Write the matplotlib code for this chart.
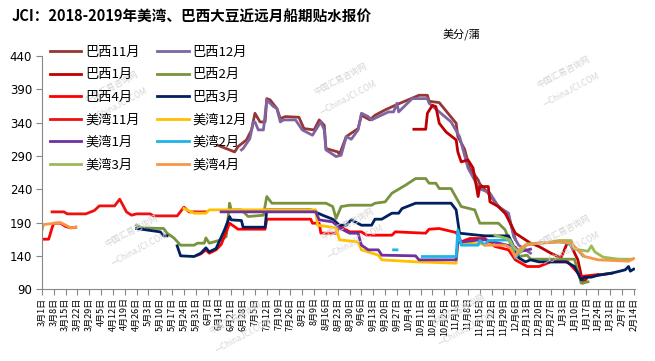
import numpy as np
import pandas as pd
import matplotlib
matplotlib.use("Agg")
import matplotlib.pyplot as plt

plt.rcParams['font.family'] = ['Noto Sans CJK SC', 'DejaVu Sans']

# ---- data (美分/蒲) ----
br11_d = ["2018-06-13", "2018-06-23", "2018-06-25", "2018-06-30", "2018-07-03", "2018-07-05", "2018-07-08",
          "2018-07-11", "2018-07-12", "2018-07-14", "2018-07-18", "2018-07-20", "2018-07-23", "2018-07-31",
          "2018-08-03", "2018-08-09", "2018-08-12", "2018-08-15", "2018-08-16", "2018-08-23", "2018-08-24",
          "2018-08-28", "2018-09-04", "2018-09-06", "2018-09-11", "2018-09-14", "2018-09-20", "2018-09-26",
          "2018-10-10", "2018-10-15", "2018-10-16", "2018-10-22", "2018-11-01", "2018-11-02", "2018-11-06",
          "2018-11-09", "2018-11-14", "2018-11-15", "2018-11-20", "2018-11-26", "2018-12-02", "2018-12-05",
          "2018-12-06"]
br11_v = [306, 296, 304, 314, 329, 354, 341, 341, 376, 374, 361, 346, 349, 348, 331, 329, 344, 336, 301, 296,
          292, 319, 331, 351, 344, 351, 359, 366, 381, 381, 372, 370, 339, 319, 300, 272, 254, 248, 234, 214,
          199, 174, 165]

br12_d = ["2018-06-27", "2018-06-28", "2018-07-02", "2018-07-04", "2018-07-05", "2018-07-07", "2018-07-10",
          "2018-07-12", "2018-07-16", "2018-07-18", "2018-07-20", "2018-07-22", "2018-07-29", "2018-08-02",
          "2018-08-08", "2018-08-13", "2018-08-15", "2018-08-16", "2018-08-22", "2018-08-25", "2018-08-28",
          "2018-08-31", "2018-09-04", "2018-09-06", "2018-09-10", "2018-09-12", "2018-09-16", "2018-09-22",
          "2018-09-25", "2018-09-27", "2018-09-28", "2018-10-06", "2018-10-15", "2018-10-16", "2018-10-29",
          "2018-11-03", "2018-11-08", "2018-11-14", "2018-11-15", "2018-11-21", "2018-11-26", "2018-12-02",
          "2018-12-05", "2018-12-08", "2018-12-15"]
br12_v = [299, 301, 316, 341, 341, 329, 329, 374, 364, 361, 341, 344, 344, 329, 321, 341, 329, 299, 289, 291,
          319, 315, 329, 354, 349, 344, 349, 356, 356, 369, 356, 376, 376, 369, 341, 319, 272, 244, 241, 234,
          214, 204, 169, 156, 144]

br1_d = ["2018-10-07", "2018-10-14", "2018-10-15", "2018-10-18", "2018-10-20", "2018-10-22", "2018-10-26",
         "2018-11-01", "2018-11-02", "2018-11-04", "2018-11-08", "2018-11-11", "2018-11-14", "2018-11-15",
         "2018-11-20", "2018-11-21", "2018-11-26", "2018-11-30", "2018-12-03", "2018-12-06", "2018-12-09",
         "2018-12-15", "2018-12-20", "2018-12-27", "2019-01-02", "2019-01-06", "2019-01-08", "2019-01-12",
         "2019-01-15", "2019-01-18", "2019-01-24", "2019-02-01"]
br1_v = [330, 330, 354, 366, 364, 339, 326, 314, 296, 281, 284, 272, 229, 244, 244, 221, 214, 204, 189, 174,
         169, 159, 154, 144, 137, 161, 155, 134, 99, 109, 111, 114]

br2_d = ["2018-04-26", "2018-04-29", "2018-05-12", "2018-05-14", "2018-05-18", "2018-05-22", "2018-05-30",
         "2018-06-01", "2018-06-05", "2018-06-06", "2018-06-08", "2018-06-15", "2018-06-18", "2018-06-20",
         "2018-06-21", "2018-06-27", "2018-07-01", "2018-07-10", "2018-07-12", "2018-07-15", "2018-08-16",
         "2018-08-20", "2018-08-22", "2018-08-25", "2018-08-30", "2018-09-12", "2018-09-14", "2018-09-20",
         "2018-09-24", "2018-10-02", "2018-10-08", "2018-10-14", "2018-10-16", "2018-10-20", "2018-10-22",
         "2018-10-29", "2018-11-04", "2018-11-12", "2018-11-15", "2018-11-26", "2018-11-30", "2018-12-03",
         "2018-12-06", "2018-12-08", "2018-12-13", "2018-12-15", "2019-01-10", "2019-01-14", "2019-01-18"]
br2_v = [186, 182, 181, 174, 167, 156, 156, 159, 159, 167, 159, 164, 169, 219, 209, 209, 199, 201, 229, 219,
         219, 214, 196, 214, 216, 216, 219, 221, 234, 246, 256, 256, 249, 249, 241, 241, 214, 209, 189, 189,
         179, 159, 149, 139, 141, 135, 135, 99, 101]

br4_d = ["2018-03-01", "2018-03-05", "2018-03-07", "2018-03-08", "2018-03-12", "2018-03-15", "2018-03-18",
         "2018-03-21", "2018-03-22",
         "2018-06-01", "2018-06-03", "2018-06-06", "2018-06-08", "2018-06-12", "2018-06-15", "2018-06-18",
         "2018-06-20", "2018-06-25", "2018-07-11", "2018-07-12", "2018-08-07", "2018-08-08", "2018-08-12",
         "2018-08-13", "2018-08-22", "2018-08-24", "2018-08-28", "2018-08-30", "2018-09-06", "2018-09-09",
         "2018-09-24", "2018-09-26", "2018-10-14", "2018-10-16", "2018-10-22", "2018-11-01", "2018-11-04",
         "2018-11-09", "2018-11-18", "2018-11-24", "2018-12-02", "2018-12-06", "2018-12-13", "2018-12-20",
         "2018-12-27", "2019-01-06", "2019-01-14", "2019-01-24"]
br4_v = [165, 165, 182, 189, 189, 184, 182, 183, np.nan,
         141, 143, 149, 144, 149, 157, 176, 189, 180, 180, 195, 195, 189, 189, 174, 174, 184, 179, 176, 176,
         171, 171, 176, 174, 180, 181, 175, 161, 166, 166, 154, 149, 134, 124, 124, 131, 131, 109, 112]

br3_d = ["2018-04-26", "2018-05-10", "2018-05-12", "2018-05-14", "2018-05-17",
         "2018-05-20", "2018-05-22", "2018-05-30", "2018-06-03", "2018-06-06", "2018-06-08", "2018-06-12",
         "2018-06-17", "2018-06-20", "2018-06-21", "2018-06-27", "2018-06-28", "2018-07-11", "2018-07-12",
         "2018-08-07", "2018-08-14", "2018-08-20", "2018-08-24", "2018-08-28", "2018-08-31", "2018-09-06",
         "2018-09-12", "2018-09-14", "2018-09-18", "2018-09-24", "2018-09-28", "2018-09-30", "2018-10-08",
         "2018-10-29", "2018-11-01", "2018-11-03", "2018-11-14", "2018-11-18", "2018-12-02", "2018-12-06",
         "2018-12-08", "2018-12-12", "2018-12-15", "2018-12-20", "2019-01-05", "2019-01-10", "2019-01-14",
         "2019-01-16", "2019-01-20", "2019-01-24", "2019-02-01", "2019-02-09", "2019-02-11", "2019-02-12",
         "2019-02-14"]
br3_v = [181, 176, 170, 170, np.nan,
         155, 140, 139, 144, 152, 146, 151, 179, 199, 194, 193, 183, 183, 209, 209, 201, 195, 186, 186, 194,
         186, 186, 195, 195, 204, 204, 211, 219, 219, 209, 174, 171, 170, 170, 149, 137, 131, 134, 131, 131,
         124, 104, 108, 108, 111, 114, 119, 124, 117, 120]

us11_d = ["2018-03-07", "2018-03-14", "2018-03-16", "2018-03-27", "2018-04-01", "2018-04-04", "2018-04-13",
          "2018-04-16", "2018-04-20", "2018-04-23", "2018-04-26", "2018-05-04", "2018-05-06", "2018-05-20",
          "2018-05-24", "2018-05-27", "2018-06-06"]
us11_v = [206, 206, 203, 203, 208, 215, 215, 225, 206, 201, 203, 203, 200, 200, 213, 206, 206]

us12_d = ["2018-05-24", "2018-05-30", "2018-06-06", "2018-06-08", "2018-08-10", "2018-08-11", "2018-08-22",
          "2018-08-24", "2018-09-04", "2018-09-06", "2018-09-16", "2018-09-18", "2018-10-08", "2018-11-01",
          "2018-11-02", "2018-11-21"]
us12_v = [211, 204, 204, 209, 209, 186, 182, 164, 161, 149, 141, 134, 131, 129, 160, 157]

us1_d = ["2018-06-15", "2018-08-10", "2018-08-12", "2018-08-20", "2018-08-24", "2018-08-30", "2018-09-04",
         "2018-09-06", "2018-09-10", "2018-09-16", "2018-09-18", "2018-10-08", "2018-10-10", "2018-11-01",
         "2018-11-02", "2018-11-15", "2018-11-18", "2018-12-06", "2018-12-08", "2018-12-15"]
us1_v = [206, 206, 194, 191, 182, 174, 174, 156, 149, 149, 141, 140, 134, 134, 160, 164, 164, 153, 146, 150]

us2_d = ["2018-09-25", "2018-09-27", "2018-09-28",
         "2018-10-12", "2018-11-01", "2018-11-02", "2018-11-04", "2018-11-14", "2018-11-15", "2018-11-18",
         "2018-11-20", "2018-12-03", "2018-12-06", "2018-12-09", "2018-12-12", "2018-12-20", "2019-01-01",
         "2019-01-06", "2019-01-12", "2019-01-15"]
us2_v = [149, 149, np.nan,
         139, 139, 179, 156, 156, 163, 156, 163, 164, 137, 147, 156, 159, 161, 159, 149, 140]

us3_d = ["2018-11-24", "2018-12-02", "2018-12-06", "2018-12-09", "2018-12-13", "2018-12-24", "2019-01-01",
         "2019-01-08", "2019-01-10", "2019-01-18", "2019-01-20", "2019-01-22", "2019-01-27", "2019-02-05",
         "2019-02-13"]
us3_v = [171, 165, 150, 145, 158, 160, 163, 163, 150, 147, 155, 146, 138, 135, 135]

us4_d = ["2018-03-01", "2018-03-02", "2018-03-12", "2018-03-15", "2018-03-18", "2018-03-21", "2018-03-22",
         "2018-11-18", "2018-11-30", "2018-12-03", "2018-12-06", "2018-12-08", "2018-12-12", "2018-12-20",
         "2019-01-01", "2019-01-08", "2019-01-10", "2019-01-16", "2019-01-24", "2019-02-11", "2019-02-14"]
us4_v = [178, 187, 190, 186, 182, 183, np.nan,
         156, 156, 152, 139, 149, 156, 159, 161, 159, 154, 139, 134, 132, 136]

# draw order follows the source workbook; legend is read row by row
series = [
    ("巴西11月", br11_d, br11_v, "#953735"),
    ("巴西12月", br12_d, br12_v, "#8064A2"),
    ("巴西1月", br1_d, br1_v, "#C00000"),
    ("巴西2月", br2_d, br2_v, "#77933C"),
    ("巴西4月", br4_d, br4_v, "#FF0000"),
    ("巴西3月", br3_d, br3_v, "#002060"),
    ("美湾11月", us11_d, us11_v, "#EE1111"),
    ("美湾12月", us12_d, us12_v, "#FFC000"),
    ("美湾1月", us1_d, us1_v, "#7030A0"),
    ("美湾2月", us2_d, us2_v, "#1FB4E8"),
    ("美湾3月", us3_d, us3_v, "#9BBB59"),
    ("美湾4月", us4_d, us4_v, "#F79646"),
]

fig = plt.figure(figsize=(6.55, 3.61), dpi=100)
fig.patch.set_facecolor("white")
ax = fig.add_axes([0.064, 0.199, 0.906, 0.646])

# faint watermark
for wx, wy in [(0.17, 0.76), (0.52, 0.78), (0.86, 0.80), (0.20, 0.36), (0.53, 0.38), (0.86, 0.36),
               (0.36, 0.12), (0.70, 0.14)]:
    fig.text(wx, wy, "中国汇易咨询网", rotation=28, fontsize=6, color="#d4d4d4",
             ha="center", va="center", zorder=0)
    fig.text(wx + 0.012, wy - 0.05, "—ChinaJCI.COM", rotation=28, fontsize=6, color="#d4d4d4",
             ha="center", va="center", zorder=0)

lines = {}
for name, d, v, c in series:
    ln, = ax.plot(pd.to_datetime(d), v, color=c, lw=2.0, label=name, solid_joinstyle="round")
    lines[name] = ln

ax.set_ylim(90, 440)
ax.set_yticks(range(90, 441, 50))
ax.set_xlim(pd.Timestamp("2018-03-01"), pd.Timestamp("2019-02-15"))

tick_dates = pd.date_range("2018-03-01", "2019-02-14", freq="7D")
ax.set_xticks(tick_dates)
ax.set_xticklabels([f"{t.month}月{t.day}日" for t in tick_dates], rotation=90, fontsize=6.5)
ax.tick_params(axis="x", length=4, width=0.8, color="#888888", pad=2)
ax.tick_params(axis="y", length=4, width=0.8, color="#888888", labelsize=8.5, pad=3)
for lab in ax.get_yticklabels():
    lab.set_fontfamily("DejaVu Sans")

for s in ["top", "right"]:
    ax.spines[s].set_visible(False)
for s in ["left", "bottom"]:
    ax.spines[s].set_color("#888888")
    ax.spines[s].set_linewidth(0.8)

order = ["巴西11月", "巴西1月", "巴西4月", "美湾11月", "美湾1月", "美湾3月",
         "巴西12月", "巴西2月", "巴西3月", "美湾12月", "美湾2月", "美湾4月"]
fig.legend([lines[n] for n in order], order, loc="upper left", bbox_to_anchor=(0.068, 0.888),
           ncol=2, frameon=False, fontsize=9.5, handlelength=2.4, handletextpad=0.3,
           columnspacing=1.3, labelspacing=0.72, borderaxespad=0)

fig.text(0.018, 0.955, "JCI：2018-2019年美湾、巴西大豆近远月船期贴水报价", fontsize=10.5,
         fontweight="bold", ha="left", va="center")
fig.text(0.676, 0.905, "美分/蒲", fontsize=8, ha="left", va="center")

fig.savefig("out.png", dpi=100)
